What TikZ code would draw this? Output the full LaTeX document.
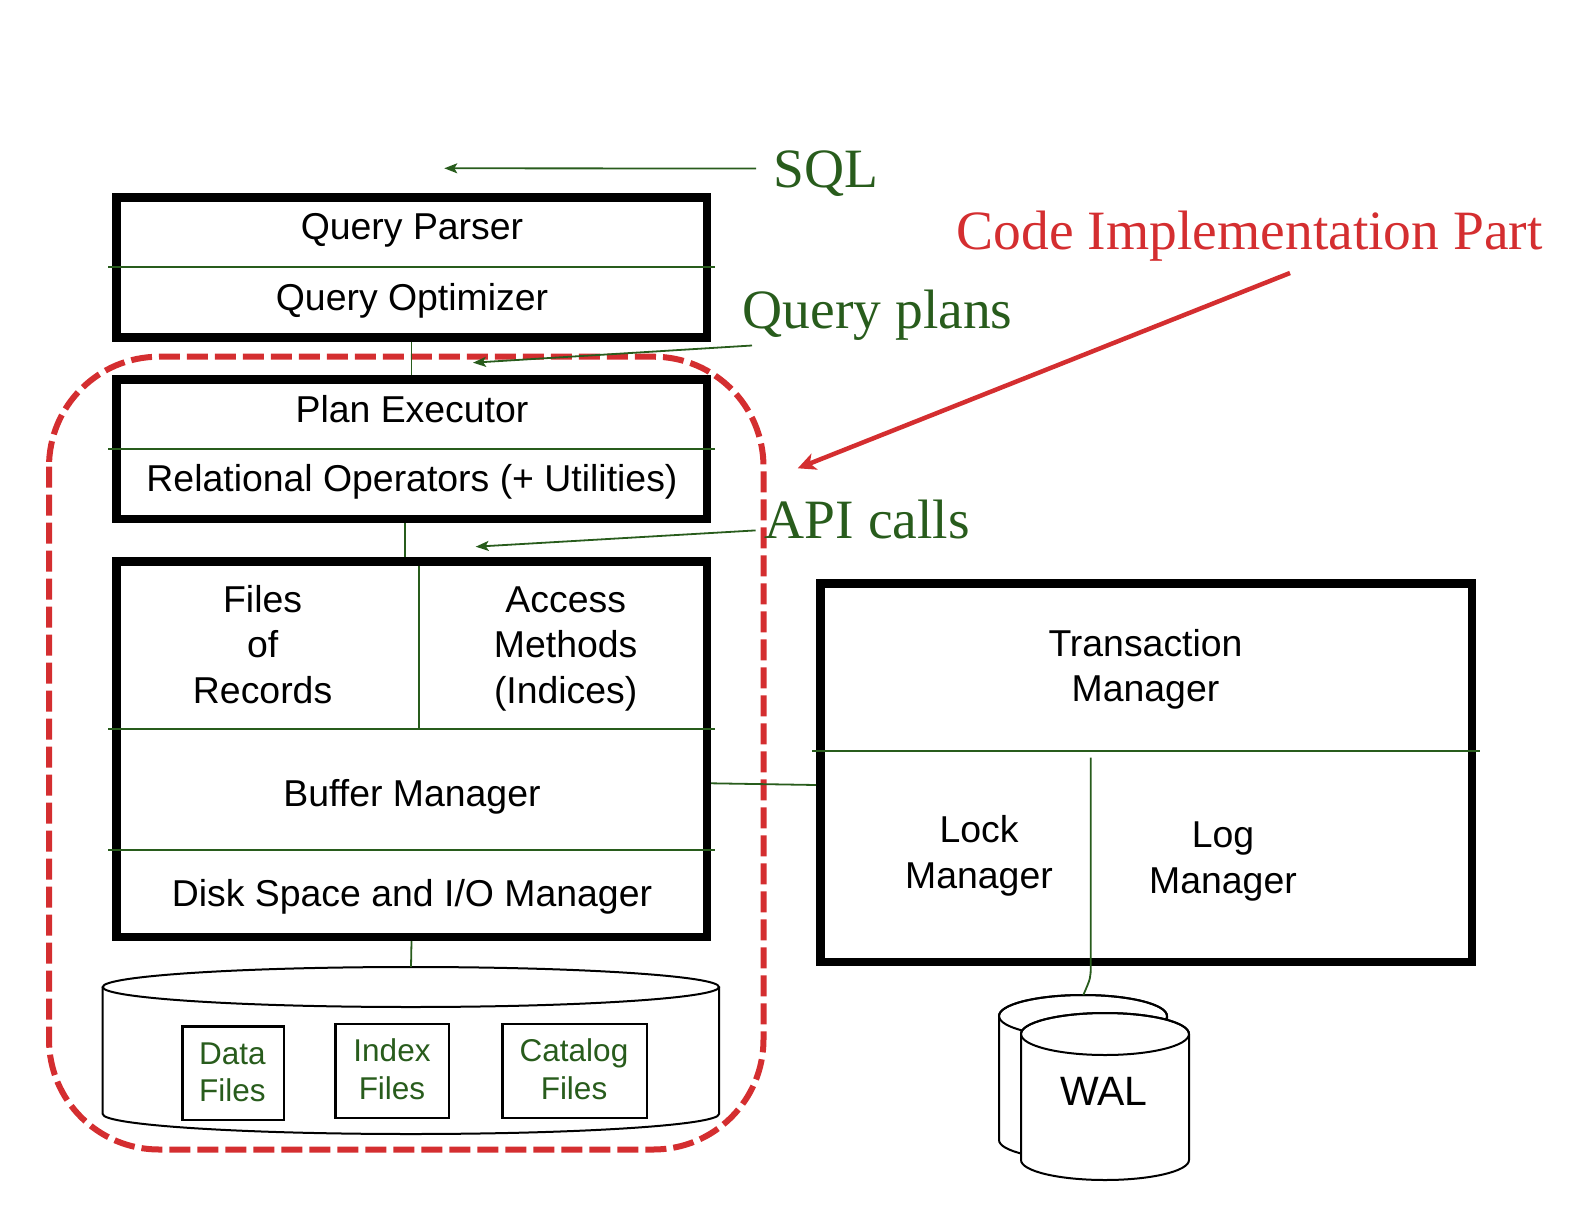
\documentclass[tikz,border=0pt]{standalone}
\usepackage{fontspec}
\setmainfont{Liberation Serif}
\newfontfamily\sansf{Liberation Sans}
\usetikzlibrary{arrows.meta,calc}
\definecolor{dgreen}{RGB}{40,92,28}
\definecolor{cred}{RGB}{212,46,48}
\begin{document}
\begin{tikzpicture}[x=1pt,y=-1pt,
  blk/.style={draw=black, line width=8.5pt, inner sep=0pt, fill=white},
  fbox/.style={draw=black, line width=2.5pt, inner sep=0pt},
  gline/.style={draw=dgreen, line width=1.8pt},
  garrow/.style={gline, -{Stealth[length=13pt,width=10pt,inset=3pt]}},
  rarrow/.style={draw=cred, line width=4.5pt, -{Stealth[length=18pt,width=17pt,inset=5pt]}},
  cyl/.style={draw=black, line width=2pt},
  sl/.style={font=\sansf\fontsize{37.4}{45.5}\selectfont, inner sep=0pt, align=center, anchor=base},
  gl/.style={font=\sansf\fontsize{31.5}{37.5}\selectfont, text=dgreen, inner sep=0pt, align=center, anchor=base},
  ser/.style={font=\fontsize{55.5}{60}\selectfont, text=dgreen, inner sep=0pt, anchor=base west},
  reddash/.style={draw=cred, line width=6pt, dash pattern=on 21pt off 7pt, rounded corners=110pt}
]
\useasboundingbox (0,0) rectangle (1584,1206);

% code implementation region
\draw[reddash] (49,356.7) rectangle (763.5,1149.5);

% boxes
\node[blk, minimum width=590.5pt, minimum height=140.25pt] (box1) at (411.5,267.4) {};
\node[blk, minimum width=590.5pt, minimum height=139.5pt] (box2) at (411.5,449) {};
\node[blk, minimum width=590.5pt, minimum height=375.5pt] (box3) at (411.5,749) {};
\node[blk, minimum width=651.5pt, minimum height=378.5pt] (trans) at (1146,772.5) {};

% dividers
\draw[gline] (108,266.7) -- (715,266.7);
\draw[gline] (108,449) -- (715,449);
\draw[gline] (108,728.7) -- (715,728.7);
\draw[gline] (108,849.7) -- (715,849.7);
\draw[gline] (419,566) -- (419,729);
\draw[gline] (812,751) -- (1480,751);

% texts in boxes (multi-line nodes: base = baseline of last line)
\node[sl] (tqp) at (412,240) {Query Parser};
\node[sl] (tqo) at (412,310) {Query Optimizer};
\node[sl] (tpe) at (412,422.7) {Plan Executor};
\node[sl] (tro) at (412,491.7) {Relational Operators (+ Utilities)};
\node[sl] (tfr) at (262.6,703.3) {Files\\of\\Records};
\node[sl] (tam) at (565.7,703) {Access\\Methods\\(Indices)};
\node[sl] (tbm) at (412,806.7) {Buffer Manager};
\node[sl] (tds) at (412,906.7) {Disk Space and I/O Manager};
\node[sl] (ttm) at (1145.5,701.7) {Transaction\\Manager};
\node[sl] (tlk) at (979,888.3) {Lock\\Manager};
\node[sl] (tlg) at (1223,893.3) {Log\\Manager};

% database cylinder
\coordinate (dbtop) at (411,967);
\draw[cyl, fill=white] (102.7,987) -- (102.7,1114) arc[start angle=180, end angle=360, x radius=308.15pt, y radius=20pt] -- (719,987);
\draw[cyl] (410.85,987) ellipse[x radius=308.15pt, y radius=20pt];
\node[fbox, minimum width=101.5pt, minimum height=93.5pt] (dfb) at (233,1073) {};
\node[fbox, minimum width=113.5pt, minimum height=93.8pt] (ifb) at (392,1070.9) {};
\node[fbox, minimum width=144.5pt, minimum height=93.8pt] (cfb) at (574.5,1070.9) {};
\node[gl] (tdf) at (232.5,1101.7) {Data\\Files};
\node[gl] (tif) at (392,1099) {Index\\Files};
\node[gl] (tcf) at (574,1099) {Catalog\\Files};

% WAL cylinders
\coordinate (walin) at (1083.3,995);
\draw[cyl, fill=white] (999,1016) -- (999,1140) arc[start angle=180, end angle=360, x radius=84pt, y radius=20pt] -- (1167,1016) arc[start angle=0, end angle=180, x radius=84pt, y radius=21pt] -- cycle;
\draw[cyl] (1083,1016) ellipse[x radius=84pt, y radius=21pt];
\draw[cyl, fill=white] (1021,1034) -- (1021,1160) arc[start angle=180, end angle=360, x radius=84pt, y radius=20pt] -- (1189,1034) arc[start angle=0, end angle=180, x radius=84pt, y radius=21pt] -- cycle;
\draw[cyl] (1105,1034) ellipse[x radius=84pt, y radius=21pt];
\node[font=\sansf\fontsize{41}{41}\selectfont, inner sep=0pt, anchor=base] (twal) at (1104,1105) {WAL};

% connectors
\draw[gline] (box1.south) -- (box2.north);
\draw[gline] ([xshift=-6.5pt]box2.south) -- ([xshift=-6.5pt]box3.north);
\draw[gline] (box3.south) -- (dbtop);
\draw[gline] ([yshift=-34.3pt]box3.east) -- ([yshift=-12.5pt]trans.west);
\coordinate (tdiv) at (1090.7,757.7);
\draw[gline] (tdiv) -- (tdiv |- trans.south) .. controls +(0,12) .. (walin);

% outside labels and arrows
\node[ser] (tsql) at (773,188) {SQL};
\node[ser] (tqplans) at (742.5,328.3) {Query plans};
\node[ser] (tapi) at (764.7,538.4) {API calls};
\node[ser, text=cred] (tcode) at (956.7,250) {Code Implementation Part};

\coordinate (sqlA) at (756,168.5);
\coordinate (sqlB) at (444.3,168.3);
\coordinate (qpA) at (752,345.5);
\coordinate (qpB) at (473,362.7);
\coordinate (apiA) at (755.6,530.4);
\coordinate (apiB) at (475.7,546.7);
\coordinate (ciA) at (1290,273);
\coordinate (ciB) at (797.7,468.3);
\draw[garrow] (sqlA) -- (sqlB);
\draw[garrow] (qpA) -- (qpB);
\draw[garrow] (apiA) -- (apiB);
\draw[rarrow] (ciA) -- (ciB);
\end{tikzpicture}
\end{document}
